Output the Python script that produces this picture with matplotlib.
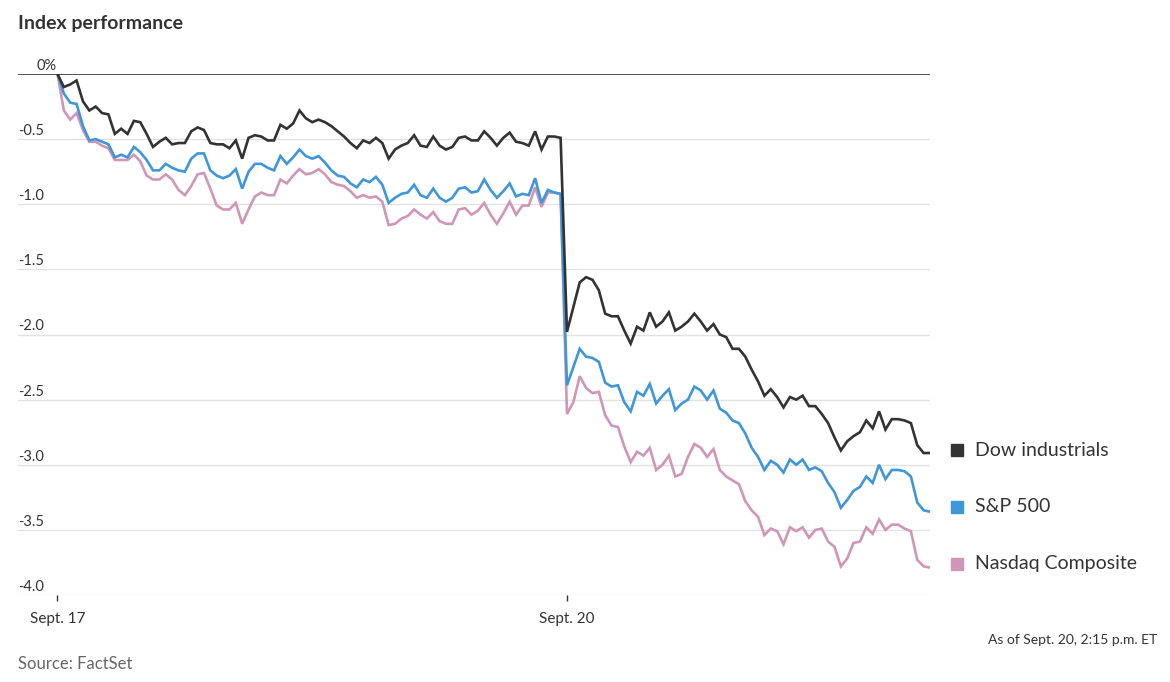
import matplotlib
matplotlib.use("Agg")
import matplotlib.pyplot as plt
import matplotlib.transforms as mtransforms

# % change, 5-minute readings; Sept. 17 session then Sept. 20 to 2:15 p.m.
dow_sep17 = [0.0, -0.10, -0.08, -0.05, -0.21, -0.28, -0.25, -0.30, -0.31, -0.46,
             -0.42, -0.46, -0.36, -0.37, -0.46, -0.56, -0.52, -0.49, -0.54, -0.53,
             -0.53, -0.44, -0.41, -0.43, -0.53, -0.54, -0.54, -0.57,
             -0.51, -0.65, -0.49, -0.47, -0.48, -0.51, -0.51, -0.39, -0.42, -0.38,
             -0.28, -0.34, -0.37, -0.35, -0.37, -0.40, -0.44, -0.48, -0.53, -0.57,
             -0.51, -0.53, -0.49, -0.53, -0.65,
             -0.58, -0.55, -0.53, -0.47, -0.55, -0.56, -0.48, -0.55, -0.58, -0.56,
             -0.49, -0.48, -0.51, -0.51, -0.44, -0.49, -0.55, -0.49, -0.45, -0.52,
             -0.53, -0.55, -0.44, -0.58, -0.48, -0.48, -0.49]
dow_sep20 = [-1.98, -1.79, -1.60, -1.56, -1.58, -1.66, -1.84, -1.86, -1.86, -1.97,
             -2.07, -1.94, -1.97, -1.83, -1.94, -1.90, -1.83, -1.97, -1.94, -1.90,
             -1.84, -1.90, -1.97, -1.92, -2.00, -2.02, -2.11, -2.11, -2.17, -2.27,
             -2.36, -2.47, -2.42, -2.48, -2.56, -2.48, -2.50, -2.47, -2.55, -2.55,
             -2.61, -2.68, -2.79, -2.89, -2.82, -2.78, -2.75, -2.66, -2.72, -2.59,
             -2.73, -2.65, -2.65, -2.66, -2.68, -2.85, -2.91, -2.91]

sp_sep17 = [0.0, -0.15, -0.22, -0.23, -0.40, -0.51, -0.50, -0.52, -0.54, -0.64,
            -0.62, -0.64, -0.56, -0.60, -0.66, -0.74, -0.74, -0.69, -0.72, -0.74,
            -0.75, -0.65, -0.61, -0.61, -0.74, -0.78, -0.80, -0.78,
            -0.73, -0.88, -0.75, -0.69, -0.69, -0.72, -0.74, -0.63, -0.69, -0.64,
            -0.58, -0.63, -0.65, -0.63, -0.68, -0.74, -0.78, -0.79, -0.84, -0.87,
            -0.81, -0.83, -0.79, -0.85, -0.99,
            -0.95, -0.92, -0.91, -0.85, -0.93, -0.95, -0.88, -0.95, -0.98, -0.95,
            -0.88, -0.87, -0.91, -0.90, -0.81, -0.89, -0.95, -0.90, -0.84, -0.94,
            -0.92, -0.93, -0.80, -0.99, -0.89, -0.91, -0.92]
sp_sep20 = [-2.39, -2.25, -2.11, -2.17, -2.18, -2.21, -2.37, -2.40, -2.39, -2.52,
            -2.59, -2.44, -2.47, -2.38, -2.53, -2.47, -2.42, -2.58, -2.53, -2.50,
            -2.40, -2.43, -2.50, -2.43, -2.57, -2.60, -2.66, -2.68, -2.76, -2.87,
            -2.94, -3.04, -2.97, -3.00, -3.06, -2.96, -3.00, -2.96, -3.04, -3.02,
            -3.05, -3.14, -3.21, -3.33, -3.27, -3.20, -3.17, -3.09, -3.14, -3.00,
            -3.11, -3.04, -3.04, -3.05, -3.09, -3.29, -3.35, -3.36]

nasdaq_sep17 = [0.0, -0.28, -0.35, -0.30, -0.43, -0.52, -0.52, -0.55, -0.57, -0.66,
                -0.66, -0.66, -0.62, -0.67, -0.78, -0.81, -0.81, -0.77, -0.81, -0.89,
                -0.93, -0.86, -0.77, -0.76, -0.88, -1.01, -1.04, -1.04,
                -0.99, -1.15, -1.04, -0.94, -0.91, -0.93, -0.93, -0.81, -0.84, -0.78,
                -0.73, -0.77, -0.76, -0.73, -0.77, -0.83, -0.85, -0.86, -0.90, -0.95,
                -0.93, -0.95, -0.94, -0.98, -1.16,
                -1.15, -1.11, -1.09, -1.04, -1.08, -1.11, -1.06, -1.13, -1.15, -1.15,
                -1.04, -1.03, -1.08, -1.05, -0.99, -1.08, -1.15, -1.07, -0.98, -1.08,
                -1.01, -1.01, -0.87, -1.02, -0.91, -0.91, -0.92]
nasdaq_sep20 = [-2.61, -2.52, -2.32, -2.41, -2.45, -2.44, -2.62, -2.70, -2.71, -2.86,
                -2.98, -2.90, -2.93, -2.87, -3.04, -3.00, -2.93, -3.09, -3.07, -2.94,
                -2.84, -2.87, -2.94, -2.88, -3.04, -3.09, -3.12, -3.15, -3.28, -3.35,
                -3.40, -3.54, -3.49, -3.51, -3.61, -3.48, -3.51, -3.48, -3.56, -3.50,
                -3.49, -3.59, -3.63, -3.78, -3.72, -3.60, -3.59, -3.48, -3.53, -3.42,
                -3.50, -3.46, -3.46, -3.49, -3.51, -3.73, -3.78, -3.79]

names = ["Dow industrials", "S&P 500", "Nasdaq Composite"]
colors = ["#333333", "#3f96d8", "#d096b8"]
yticks = [0, -0.5, -1.0, -1.5, -2.0, -2.5, -3.0, -3.5, -4.0]
date_labels = ["Sept. 17", "Sept. 20"]

dow = dow_sep17 + dow_sep20
sp = sp_sep17 + sp_sep20
nasdaq = nasdaq_sep17 + nasdaq_sep20
x = list(range(len(dow)))

plt.rcParams['font.family'] = ['Lato', 'DejaVu Sans']

W, H = 1170, 682
fig = plt.figure(figsize=(W / 100, H / 100), dpi=100)
ax = fig.add_axes([18 / W, 1 - 595 / H, (930 - 18) / W, (595 - 74) / H])

ax.plot(x, nasdaq, color=colors[2], lw=1.9, zorder=3, solid_joinstyle='miter')
ax.plot(x, sp, color=colors[1], lw=1.9, zorder=4, solid_joinstyle='miter')
ax.plot(x, dow, color=colors[0], lw=1.9, zorder=5, solid_joinstyle='miter')

ax.set_xlim(-6.2, len(dow) - 1)
ax.set_ylim(-4.0, 0.0)

for v in yticks[1:]:
    ax.axhline(v, color="#e2e2e2", lw=1, zorder=1)
ax.axhline(0, color="#333333", lw=1.2, zorder=2)

# y labels sit above the gridlines
lab_tr = mtransforms.offset_copy(ax.get_yaxis_transform(), fig=fig, x=0, y=1, units='dots')
for v in yticks:
    if v == 0:
        ax.text(0.02, v, "0%", transform=lab_tr, ha='left', va='bottom',
                fontsize=10.5, color="#333333")
    else:
        ax.text(0, v, f"{v:.1f}", transform=lab_tr, ha='left', va='bottom',
                fontsize=10.5, color="#333333")

for s in ax.spines.values():
    s.set_visible(False)
ax.set_yticks([])
ax.set_xticks([0, len(dow_sep17)])
ax.set_xticklabels(date_labels)
ax.tick_params(axis='x', length=4, width=1, color="#333333", pad=8,
               labelsize=11, labelcolor="#333333")

fig.text(18 / W, 1 - 23 / H, "Index performance", fontsize=14, fontweight='bold',
         color="#333333", ha='left', va='center')

# legend
for i, (name, c) in enumerate(zip(names, colors)):
    yc = 450 + 57 * i
    fig.patches.append(plt.Rectangle((951 / W, 1 - (yc + 6) / H), 12 / W, 12 / H,
                                     transform=fig.transFigure, color=c, figure=fig))
    fig.text(975 / W, 1 - yc / H, name, fontsize=14, color="#333333",
             ha='left', va='center')

fig.text(1157 / W, 1 - 640 / H, "As of Sept. 20, 2:15 p.m. ET", fontsize=10,
         color="#333333", ha='right', va='center')
fig.text(18 / W, 1 - 664 / H, "Source: FactSet", fontsize=12, color="#666666",
         ha='left', va='center')

fig.savefig("out.png", dpi=100)
